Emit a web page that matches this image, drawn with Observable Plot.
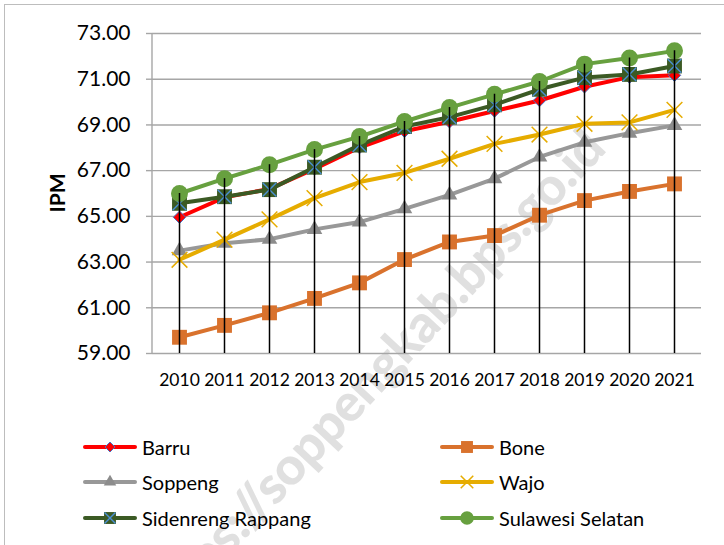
<!DOCTYPE html>
<html>
<head>
<meta charset="utf-8">
<script src="https://cdn.jsdelivr.net/npm/d3@7"></script>
<script src="https://cdn.jsdelivr.net/npm/@observablehq/plot@0.6"></script>
<style>
  html, body { margin: 0; padding: 0; background: #fff; }
  #wrap { position: relative; width: 724px; height: 545px; overflow: hidden; background: #fff; font-family: Lato, "Open Sans", sans-serif; }
  #frame { position: absolute; left: 4px; top: 4px; width: 760px; height: 580px; border: 1px solid #bdbdbd; box-sizing: border-box; }
  #wm { position: absolute; left: 0; top: 0; z-index: 0; }
  #chart { position: absolute; left: 0; top: 0; z-index: 1; }
  #ylabel { position: absolute; z-index: 2; left: 56px; top: 193px; transform: translate(-50%, -50%) rotate(-90deg); font-weight: 700; font-size: 21px; color: #000; }
  .leg { position: absolute; z-index: 2; display: flex; align-items: center; font-size: 20px; color: #000; transform: translateY(-50%); }
  .leg svg { margin-right: 5px; }
</style>
</head>
<body>
<div id="wrap">
  <div id="frame"></div>
  <svg id="wm" width="724" height="545"></svg>
  <div id="chart"></div>
  <div id="ylabel">IPM</div>
  <div id="legend"></div>
</div>
<script>
// ---- data ----
const years = ["2010","2011","2012","2013","2014","2015","2016","2017","2018","2019","2020","2021"];
const seriesNames = ["Barru","Bone","Soppeng","Wajo","Sidenreng Rappang","Sulawesi Selatan"];
const barru    = [64.96, 65.83, 66.20, 67.08, 68.01, 68.72, 69.14, 69.61, 70.07, 70.67, 71.09, 71.17];
const bone     = [59.71, 60.23, 60.78, 61.41, 62.09, 63.11, 63.88, 64.16, 65.05, 65.69, 66.09, 66.42];
const soppeng  = [63.50, 63.82, 64.00, 64.43, 64.75, 65.33, 65.94, 66.65, 67.60, 68.24, 68.64, 68.98];
const wajo     = [63.10, 63.98, 64.87, 65.80, 66.50, 66.90, 67.52, 68.17, 68.58, 69.05, 69.11, 69.66];
const sidrap   = [65.57, 65.86, 66.17, 67.15, 68.12, 68.93, 69.34, 69.88, 70.56, 71.07, 71.21, 71.58];
const sulsel   = [66.00, 66.65, 67.26, 67.92, 68.49, 69.15, 69.76, 70.34, 70.90, 71.66, 71.93, 72.24];
const yTicks   = [59, 61, 63, 65, 67, 69, 71, 73];
const watermarkText = "https://soppengkab.bps.go.id";

// ---- styles ----
const seriesValues = [barru, bone, soppeng, wajo, sidrap, sulsel];
const styles = [
  {color: "#ff0000", symbol: "diamond2", r: 5.6, fill: "#ff0000", stroke: "#4472c4", sw: 1},
  {color: "#d9722d", symbol: "square",   r: 8.4, fill: "#d9722d", stroke: "none", sw: 0},
  {color: "#989898", symbol: "triangle", r: 5.8, fill: "#8c8c8c", stroke: "none", sw: 0},
  {color: "#e6ac00", symbol: "times",    r: 7.2, fill: "none",    stroke: "#e6ac00", sw: 1.5},
  {color: "#3b5a24", symbol: "square",   r: 8.4, fill: "#3b5a24", stroke: "none", sw: 0, overlay: {symbol: "times", r: 6.3, stroke: "#4a8fd4", sw: 1.4}},
  {color: "#67a03f", symbol: "circle",   r: 8.5, fill: "#67a03f", stroke: "none", sw: 0}
];

const rows = [];
seriesNames.forEach((name, i) => years.forEach((year, j) => rows.push({name, year, value: seriesValues[i][j]})));
const drops = years.map((year, j) => ({year, top: d3.max(seriesValues, s => s[j])}));
const yMin = yTicks[0];

const marks = [Plot.ruleY(yTicks, {stroke: "#a6a6a6", strokeWidth: 1.4})];
seriesNames.forEach((name, i) => {
  const data = rows.filter(d => d.name === name);
  const st = styles[i];
  marks.push(Plot.line(data, {x: "year", y: "value", stroke: st.color, strokeWidth: 4, strokeLinejoin: "round", strokeLinecap: "round"}));
  marks.push(Plot.dot(data, {x: "year", y: "value", symbol: st.symbol, r: st.r, fill: st.fill, stroke: st.stroke, strokeWidth: st.sw}));
  if (st.overlay) {
    marks.push(Plot.dot(data, {x: "year", y: "value", symbol: st.overlay.symbol, r: st.overlay.r, fill: "none", stroke: st.overlay.stroke, strokeWidth: st.overlay.sw}));
  }
});
marks.push(Plot.ruleX(drops, {x: "year", y1: () => yMin, y2: "top", stroke: "#000", strokeWidth: 1.5}));

const chart = Plot.plot({
  width: 724,
  height: 400,
  marginLeft: 152,
  marginRight: 23,
  marginTop: 33,
  marginBottom: 47,
  style: {background: "transparent", fontFamily: "Lato, 'Open Sans', sans-serif", fontSize: "21px", color: "#000", overflow: "visible"},
  x: {type: "point", domain: years, padding: 0.5, tickSize: 0, tickPadding: 20, label: null},
  y: {domain: [59, 73], ticks: yTicks, tickFormat: d => d.toFixed(2), tickSize: 6, tickPadding: 16, label: null},
  marks
});
document.getElementById("chart").appendChild(chart);

const svg = d3.select(chart);
svg.selectAll('[aria-label^="x-axis"] text').attr("font-size", 17.5).style("font-size", "17.5px");
svg.selectAll('[aria-label^="y-axis"] path, [aria-label^="y-axis"] line').attr("stroke", "#a6a6a6").attr("stroke-width", 1.4);
// y-axis line
const ys = chart.scale("y");
const xs = chart.scale("x");
const x0 = d3.min(xs.range);
svg.append("line").attr("x1", x0).attr("x2", x0).attr("y1", d3.min(ys.range)).attr("y2", d3.max(ys.range))
  .attr("stroke", "#a6a6a6").attr("stroke-width", 1.4);

// watermark
d3.select("#wm").append("text")
  .attr("transform", "translate(608,150) rotate(-47)")
  .attr("text-anchor", "end")
  .attr("font-family", "Lato, sans-serif")
  .attr("font-weight", 900)
  .attr("font-size", 52)
  .attr("textLength", 650)
  .attr("lengthAdjust", "spacing")
  .attr("fill", "#e0e0e0")
  .text(watermarkText);

// legend
const legPos = [[83, 447], [440, 447], [83, 482], [440, 482], [83, 518], [440, 518]];
const legend = d3.select("#legend");
seriesNames.forEach((name, i) => {
  const st = styles[i];
  const item = legend.append("div").attr("class", "leg").style("left", legPos[i][0] + "px").style("top", legPos[i][1] + "px");
  const s = item.append("svg").attr("width", 54).attr("height", 22);
  s.append("line").attr("x1", 2).attr("x2", 52).attr("y1", 11).attr("y2", 11).attr("stroke", st.color).attr("stroke-width", 4).attr("stroke-linecap", "round");
  const symMap = {diamond2: d3.symbolDiamond2, square: d3.symbolSquare, triangle: d3.symbolTriangle, times: d3.symbolTimes, circle: d3.symbolCircle};
  const k = 0.8;
  s.append("path").attr("transform", "translate(27,11)")
    .attr("d", d3.symbol(symMap[st.symbol], Math.PI * (st.r * k) ** 2)())
    .attr("fill", st.fill).attr("stroke", st.stroke).attr("stroke-width", st.sw);
  if (st.overlay) {
    s.append("path").attr("transform", "translate(27,11)")
      .attr("d", d3.symbol(symMap[st.overlay.symbol], Math.PI * (st.overlay.r * k) ** 2)())
      .attr("fill", "none").attr("stroke", st.overlay.stroke).attr("stroke-width", st.overlay.sw);
  }
  item.append("span").text(name);
});
</script>
</body>
</html>
